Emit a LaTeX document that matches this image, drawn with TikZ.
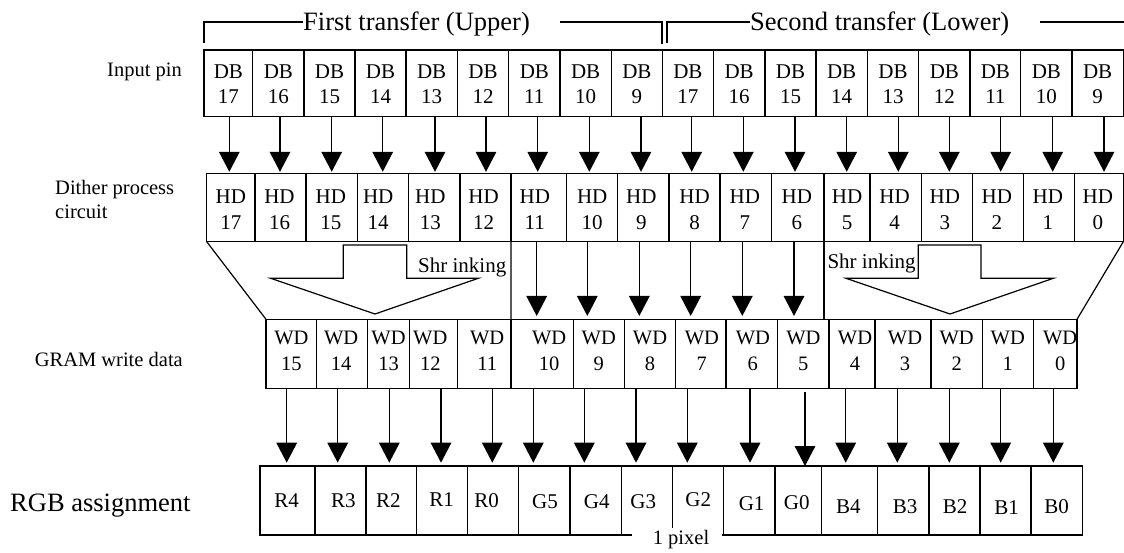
\documentclass[tikz,border=0pt]{standalone}
\usepackage{fontspec}
\setmainfont{Liberation Serif}
\usetikzlibrary{arrows.meta,calc}
\newcommand\myfont[2]{\fontsize{#1}{#2}\selectfont}
\newcommand\cellnode[8]{%
  \node[cellbox, minimum width={#3-#2}, minimum height={#5-#4}] (#1) at ({(#2+#3)/2},{(#4+#5)/2}) {};
  \node[celltext] (#1-t) at ($(#1.center)+(#7,#8)$) {#6};
}
\tikzset{
  cellbox/.style={draw, line width=1.2pt, inner sep=0pt, outer sep=0pt},
  celltext/.style={inner sep=0pt, align=center, font=\myfont{21}{25}},
  arr/.style={line width=1.5pt, -{Triangle[width=20.5pt,length=20pt]}},
  line/.style={line width=1.2pt},
  title/.style={inner sep=0pt, font=\myfont{26.5}{27}},
  lab/.style={inner sep=0pt, font=\myfont{20.5}{23.7}},
  small/.style={inner sep=0pt, font=\myfont{21}{21}},
  pixlab/.style={inner sep=0pt, font=\myfont{20.5}{21}},
  big/.style={inner sep=0pt, font=\myfont{26.5}{27}}
}
\begin{document}
\begin{tikzpicture}[x=1pt,y=-1pt]
\useasboundingbox (0,0) rectangle (1124,553);

% titles and brackets
\node[title, anchor=base west] (t1) at (303,30.5) {First transfer (Upper)};
\node[title, anchor=base west] (t2) at (750,30.5) {Second transfer (Lower)};
\draw[line] (204,43) -- (204,22) -- (303,22);
\draw[line] (560,22) -- (662,22) -- (662,44);
\draw[line] (667,43) -- (667,22) -- (750,22);
\draw[line] (1040,22) -- (1124,22);

% row labels
\node[lab, anchor=base east] (lin) at (182,76.7) {Input pin};
\node[lab, anchor=north west, align=left] (ldi) at (55,180.3) {Dither process\\circuit};
\node[lab, anchor=base east] (lgr) at (183,366.7) {GRAM write data};
\node[big, anchor=base west] (lrgb) at (10,511.7) {RGB assignment};

% DB rows
\begin{scope}[celltext/.append style={font=\myfont{21}{25}}]
\foreach \n/\a/\b in {17/204/252.7, 16/252.7/304, 15/304/355, 14/355/406, 13/406/457.3, 12/457.3/508.7, 11/508.7/560, 10/560/611.3, 9/611.3/662.5}
  {\cellnode{du\n}{\a}{\b}{50}{116.7}{DB\\\n}{0}{1}}
\foreach \n/\a/\b in {17/662.5/713.3, 16/713.3/765, 15/765/816, 14/816/867.3, 13/867.3/918.7, 12/918.7/970, 11/970/1020.7, 10/1020.7/1072, 9/1072/1123.3}
  {\cellnode{dl\n}{\a}{\b}{50}{116.7}{DB\\\n}{0}{1}}
\end{scope}

% HD row
\begin{scope}[celltext/.append style={font=\myfont{21}{26}}]
\foreach \n/\a/\b/\d in {17/206.7/255/0, 16/255/306/-1, 15/306/357.7/-1, 14/357.7/408.7/-5, 13/408.7/460/-4, 12/460/511/-2, 11/511/566.7/-4, 10/566.7/617.7/0, 9/617.7/669/-2, 8/669/720/0, 7/720/771.7/-1, 6/771.7/824/-1, 5/824/870/0, 4/870/921.3/-1, 3/921.3/972.3/-2, 2/972.3/1023.3/-1, 1/1023.3/1074.3/-1, 0/1074.3/1123.3/-1}
  {\cellnode{hd\n}{\a}{\b}{173.3}{241.7}{HD\\\n}{\d}{2}}
\end{scope}

% WD row
\begin{scope}[celltext/.append style={font=\myfont{20.5}{26.7}}]
\foreach \n/\a/\b/\d in {15/266/316.7/0, 14/316.7/367.7/-1, 13/367.7/409.3/0, 12/409.3/457.3/-3, 11/457.3/511/3, 10/511/573.3/7, 9/573.3/624.3/0, 8/624.3/675.7/0, 7/675.7/726/1, 6/726/777.7/1, 5/777.7/829/0, 4/829/875/3, 3/875/931/2, 2/931/982.3/0, 1/982.3/1033.3/0, 0/1033.3/1077/5}
  {\cellnode{wd\n}{\a}{\b}{319.3}{388.3}{WD\\\n}{\d}{-3}}
\end{scope}

% RGB row
\foreach \n/\a/\b/\d/\e in {R4/260/315/-0.8/0.5, R3/315/366/2.8/0.5, R2/366/416.7/-3/0.5, R1/416.7/467.7/-0.5/-1, R0/467.7/518.3/-6.3/0.5, G5/518.3/570/0.85/1.5, G4/570/621.7/0.85/1.5, G3/621.7/672.7/-3.9/1.5, G2/672.7/723.3/0.3/-0.5, G1/723.3/775/2.5/2.8, G0/775/821.7/-1.6/2, B4/821.7/877.7/-1.4/6.2, B3/877.7/929/1.65/6.5, B2/929/980/0.5/6.5, B1/980/1031/1.2/7.5, B0/1031/1082.7/-0.15/6.5}
  {\cellnode{r\n}{\a}{\b}{466}{535}{\n}{\d}{\e}}

% "1 pixel" gap in the bottom line
\fill[white] (632.3,527.5) rectangle (721.7,552);
\node[pixlab, anchor=base] (pix) at (681,544) {1 pixel};

% arrows DB -> HD
\foreach \s/\t/\x in {du17/hd17/229.3, du16/hd16/280, du15/hd15/331.7, du14/hd14/382.7, du13/hd13/435, du12/hd12/486, du11/hd11/537.7, du10/hd10/589.3, du9/hd9/641, dl17/hd8/691.7, dl16/hd7/743.3, dl15/hd6/795, dl14/hd5/846.7, dl13/hd4/898.3, dl12/hd3/949.3, dl11/hd2/1000.7, dl10/hd1/1052.7, dl9/hd0/1104}
  {\draw[arr, shorten >=1.5pt] (\s.south -| \x,0) -- (\t.north -| \x,0);}

% arrows HD -> WD
\foreach \s/\t/\x in {hd11/wd10/536.7, hd10/wd9/587.3, hd9/wd8/639.3, hd8/wd7/690.7, hd7/wd6/742.3, hd6/wd5/794}
  {\draw[arr, shorten >=3.3pt] (\s.south -| \x,0) -- (\t.north -| \x,0);}

% arrows WD -> RGB
\foreach \s/\t/\x in {wd15/rR4/286.7, wd14/rR3/337.7, wd13/rR2/389.3, wd12/rR1/441, wd11/rR0/492.3, wd10/rG5/533.3, wd9/rG4/584.3, wd8/rG3/636, wd7/rG2/687.3, wd6/rG1/750, wd4/rB4/845.7, wd3/rB3/897.3, wd2/rB2/949.3, wd1/rB1/1000.7, wd0/rB0/1053.3}
  {\draw[arr, shorten >=3.3pt] (\s.south -| \x,0) -- (\t.north -| \x,0);}
\draw[arr, shorten <=3.4pt] (wd5.south -| 805,0) -- (rG0.north -| 805,0);

% shrinking region outlines
\draw[line] (hd17.south west) -- (wd15.north west);
\draw[line] (hd12.south east) -- (wd11.north east);
\draw[line] (hd6.south east) -- (hd6.south east |- wd5.north);
\draw[line] (hd0.south east) -- (wd0.north east);

% shrinking block arrows
\draw[line, line join=miter] (343.3,245) -- (406.7,245) -- (406.7,278.3) -- (478.3,278.3) -- (375,314) -- (270.7,278.3) -- (343.3,278.3) -- cycle;
\draw[line, line join=miter] (918.3,245) -- (981,245) -- (981,278.3) -- (1053.3,278.3) -- (950,314) -- (846,278.3) -- (918.3,278.3) -- cycle;
\node[small, anchor=base west] (sh1) at (418,272.3) {Shr inking};
\node[small, anchor=base west] (sh2) at (827.3,268.3) {Shr inking};
\end{tikzpicture}
\end{document}
